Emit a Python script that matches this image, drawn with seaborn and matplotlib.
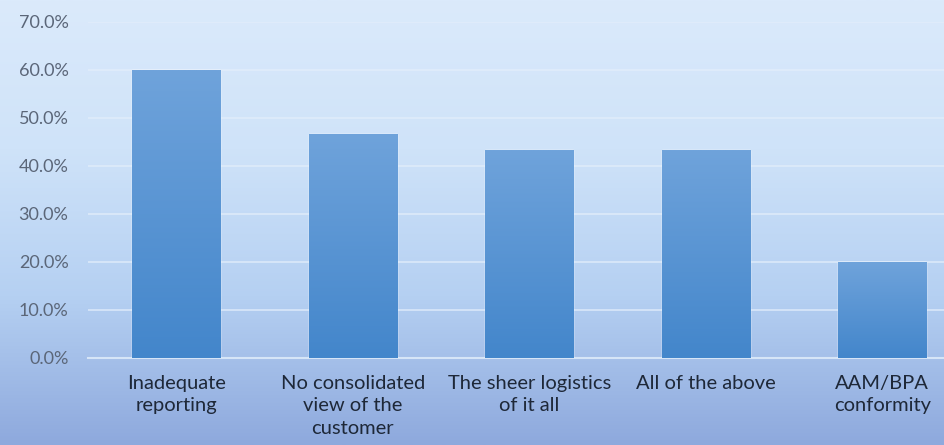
import matplotlib
matplotlib.use("Agg")
import matplotlib.pyplot as plt
import matplotlib.colors as mcolors
import matplotlib.ticker as mticker
import numpy as np
import pandas as pd
import seaborn as sns

categories = [
    "Inadequate\nreporting",
    "No consolidated\nview of the\ncustomer",
    "The sheer logistics\nof it all",
    "All of the above",
    "AAM/BPA\nconformity",
]
shares = [0.600, 0.467, 0.433, 0.433, 0.200]

df = pd.DataFrame({"category": categories, "share": shares})

sns.set_style("white")
plt.rcParams["font.family"] = ["Lato", "DejaVu Sans"]

fig = plt.figure(figsize=(9.44, 4.45), dpi=100)

# gradient backdrop
bg = fig.add_axes([0, 0, 1, 1], zorder=-1)
bg_cmap = mcolors.LinearSegmentedColormap.from_list(
    "bg", ["#dbeafb", "#cfe3f9", "#b5d0f2", "#8ea9dd"])
grad = np.linspace(0, 1, 256).reshape(-1, 1)
bg.imshow(grad, aspect="auto", cmap=bg_cmap, extent=[0, 1, 0, 1])
bg.set_axis_off()

ax = fig.add_axes([88 / 944, 1 - 358 / 445, 1 - 88 / 944, (358 - 22) / 445])
ax.set_facecolor("none")

sns.barplot(data=df, x="category", y="share", color="#5a96d6", width=0.5,
            ax=ax, zorder=3)

bar_cmap = mcolors.LinearSegmentedColormap.from_list("bar", ["#4386cb", "#6fa3db"])
for p in ax.patches:
    x0, y0 = p.get_x(), p.get_y()
    w, h = p.get_width(), p.get_height()
    im = ax.imshow(np.linspace(0, 1, 128).reshape(-1, 1), cmap=bar_cmap,
                   origin="lower", aspect="auto",
                   extent=[x0, x0 + w, y0, y0 + h], zorder=4)
    im.set_clip_path(p)

ax.set_xlim(-0.5, 4.35)
ax.set_ylim(0, 0.7)
ax.set_yticks(np.arange(0, 0.71, 0.1))
ax.yaxis.set_major_formatter(mticker.PercentFormatter(1.0, decimals=1))
ax.grid(axis="y", color="#e3eefb", linewidth=1.2, alpha=0.8, zorder=1)
ax.set_axisbelow(True)

for s in ["top", "right", "left"]:
    ax.spines[s].set_visible(False)
ax.spines["bottom"].set_color("#d6e5f7")
ax.spines["bottom"].set_linewidth(1.5)

ax.tick_params(axis="y", length=0, pad=14, labelsize=13, labelcolor="#5b6678")
ax.tick_params(axis="x", length=0, pad=12, labelsize=14.5, labelcolor="#1e2838")
for lbl in ax.get_xticklabels():
    lbl.set_linespacing(1.4)
ax.set_xlabel("")
ax.set_ylabel("")

fig.savefig("out.png", dpi=100)
